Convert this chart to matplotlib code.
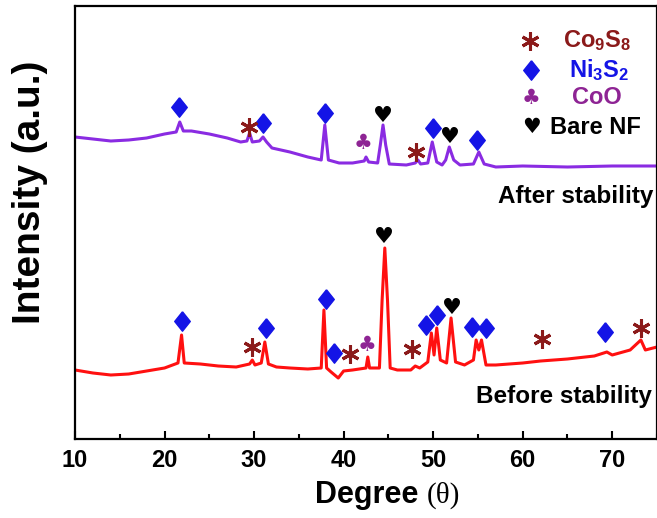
import matplotlib
matplotlib.use('Agg')
import matplotlib.pyplot as plt
import numpy as np

plt.rcParams['font.family'] = ['Liberation Sans', 'DejaVu Sans']
plt.rcParams['font.weight'] = 'bold'
plt.rcParams['mathtext.fontset'] = 'custom'
plt.rcParams['mathtext.rm'] = 'Liberation Sans:bold'
plt.rcParams['mathtext.default'] = 'rm'

# After stability (purple)
after_x = [10, 12, 14, 16, 18, 20, 21.3, 21.7, 22.1, 23, 25, 27, 28.5, 29.2, 29.5, 29.8,
           30.6, 31.0, 31.4, 32.0, 34, 36, 37.5, 37.9, 38.3, 39.5, 41, 42.3, 42.5, 42.8,
           43.8, 44.1, 44.4, 44.7, 45.1, 47, 48.0, 48.3, 48.6, 49.4, 49.9, 50.4, 51.0,
           51.4, 51.8, 52.3, 53.0, 54.5, 55.1, 55.7, 57, 60, 65, 70, 75]
after_y = [302, 300, 298, 299, 301, 305, 307, 317, 308, 308, 305, 301, 297, 298, 306, 297,
           298, 302, 297, 291, 287, 282, 279, 314, 279, 276, 276, 278, 282, 277,
           276, 294, 314, 294, 275, 274, 276, 279, 275, 276, 297, 277, 274,
           279, 292, 279, 274, 275, 287, 275, 272, 273, 272, 273, 273]

# Before stability (red)
before_x = [10, 12, 14, 16, 18, 20, 21.5, 21.9, 22.2, 24, 26, 28, 29.5, 29.8, 30.1, 30.8,
            31.2, 31.6, 32.5, 34, 36, 37.5, 37.8, 38.1, 38.6, 39.4, 40, 41, 42.5, 42.7,
            42.9, 44.0, 44.3, 44.6, 44.9, 45.2, 46, 47.5, 48, 48.5, 49.4, 49.8, 50.1,
            50.4, 50.8, 51.5, 52.0, 52.5, 53.5, 54.5, 54.8, 55.1, 55.4, 55.9, 57, 60,
            62, 65, 68, 69.4, 70, 72, 73.2, 73.7, 75]
before_y = [69, 66, 64, 65, 68, 71, 76, 104, 76, 75, 73, 72, 75, 79, 74, 76,
            97, 75, 72, 71, 70, 71, 129, 71, 67, 61, 68, 69, 71, 82,
            71, 71, 139, 191, 139, 71, 69, 69, 73, 71, 77, 106, 84,
            111, 79, 76, 121, 77, 74, 79, 99, 89, 99, 74, 74, 76,
            78, 80, 83, 87, 84, 89, 99, 89, 92]

# peak markers: (position, height)
co9s8_x = [29.4, 48.1, 29.8, 40.7, 47.6, 62.2, 73.2]
co9s8_y = [312, 287, 92, 85, 90, 100, 111]
ni3s2_x = [21.6, 31.0, 37.9, 50.0, 54.9, 22.0, 31.3, 38.0, 38.9, 49.2, 50.4, 54.3, 55.9, 69.2]
ni3s2_y = [332, 316, 326, 311, 299, 118, 111, 140, 86, 114, 124, 112, 111, 107]
coo_x = [42.2, 42.6]
coo_y = [296, 94]
nf_x = [44.4, 51.9, 44.5, 52.1]
nf_y = [323, 302, 202, 131]

c_co9s8 = '#8B1A1A'
c_ni3s2 = '#1414E6'
c_coo = '#8E2494'

fig = plt.figure(figsize=(6.57, 5.18), dpi=100)
ax = fig.add_axes([75/657, 79/518, 582/657, 433/518])

ax.plot(after_x, after_y, color='#8A2BE2', lw=2.2)
ax.plot(before_x, before_y, color='#FF1010', lw=2.2)

diamond = [(0, 1), (0.8, 0), (0, -1), (-0.8, 0), (0, 1)]
ax.plot(ni3s2_x, ni3s2_y, ls='none', marker=diamond, ms=14, color=c_ni3s2)
ax.plot(co9s8_x, co9s8_y, ls='none', marker=(6, 2, 0), ms=13, mew=2.2, color=c_co9s8)
for x, y in zip(coo_x, coo_y):
    ax.text(x, y, '\u2663', color=c_coo, fontsize=15, ha='center', va='center',
            family='DejaVu Sans')
for x, y in zip(nf_x, nf_y):
    ax.text(x, y, '\u2665', color='black', fontsize=16, ha='center', va='center',
            family='DejaVu Sans')

# legend
ax.plot([60.8], [398], marker=(6, 2, 0), ms=13, mew=2.2, color=c_co9s8)
ax.plot([60.9], [369], marker=diamond, ms=14, color=c_ni3s2)
ax.text(60.9, 341, '\u2663', color=c_coo, fontsize=15, ha='center', va='center', family='DejaVu Sans')
ax.text(61.0, 312, '\u2665', color='black', fontsize=15, ha='center', va='center', family='DejaVu Sans')
ax.text(68.3, 398, r'Co$_{9}$S$_{8}$', color=c_co9s8, fontsize=17, ha='center', va='center')
ax.text(68.5, 369, r'Ni$_{3}$S$_{2}$', color=c_ni3s2, fontsize=17, ha='center', va='center')
ax.text(68.3, 341, 'CoO', color=c_coo, fontsize=17, ha='center', va='center')
ax.text(68.1, 312, 'Bare NF', color='black', fontsize=17, ha='center', va='center')

ax.text(74.6, 243, 'After stability', fontsize=17.5, ha='right', va='center')
ax.text(74.4, 42, 'Before stability', fontsize=17.5, ha='right', va='center')

ax.set_xlim(10, 75)
ax.set_ylim(0, 433)
ax.set_xticks([10, 20, 30, 40, 50, 60, 70])
ax.set_xticks([15, 25, 35, 45, 55, 65, 75], minor=True)
ax.set_yticks([])
ax.tick_params(axis='x', which='major', direction='in', length=6, width=1.5,
               labelsize=17, pad=7, top=False)
ax.tick_params(axis='x', which='minor', direction='in', length=3.5, width=1.5, top=False)
for s in ax.spines.values():
    s.set_linewidth(1.6)

fig.text(30/657, 1 - 192/518, 'Intensity (a.u.)', rotation=90, fontsize=28,
         ha='center', va='center')
fig.text(427/657, 1 - 495/518, 'Degree ', fontsize=22, ha='right', va='center')
fig.text(427/657, 1 - 495/518, '(\u03b8)', fontsize=21, ha='left', va='center',
         family='Liberation Serif', weight='normal')

fig.savefig('out.png', dpi=100)
